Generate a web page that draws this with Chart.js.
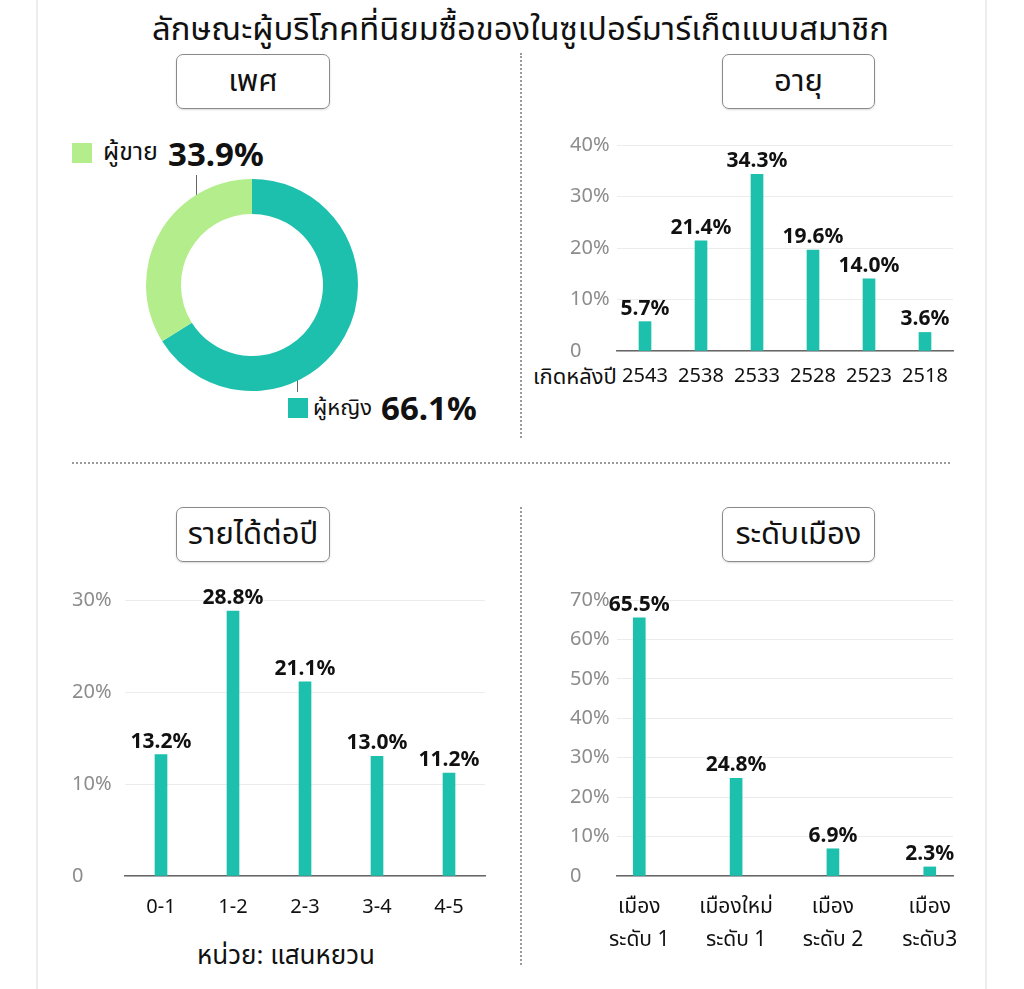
<!DOCTYPE html>
<html>
<head>
<meta charset="utf-8">
<script src="https://cdn.jsdelivr.net/npm/chart.js@4"></script>
<style>
body { margin: 0; background: #fff; font-family: "Noto Sans", "Noto Sans Thai", Loma, Garuda, Tahoma, sans-serif; }
#page { position: relative; width: 1024px; height: 989px; overflow: hidden; background: #fff; }
.abs { position: absolute; white-space: nowrap; }
.box { position: absolute; border: 1.5px solid #8a8a8a; border-radius: 7px; box-sizing: border-box;
       display: flex; align-items: center; justify-content: center; font-size: 31px; color: #111;
       box-shadow: 0 1px 2px rgba(0,0,0,0.15); }
.vline { position: absolute; width: 0; border-left: 2px dotted #9a9a9a; }
.hline { position: absolute; height: 0; border-top: 2px dotted #9a9a9a; }
.edge { position: absolute; top: 0; width: 2px; height: 989px; background: #ededed; }
canvas { position: absolute; }
.sq { position: absolute; width: 20px; height: 20px; }
.lead { position: absolute; width: 1px; background: #666; }
</style>
</head>
<body>
<div id="page">
  <div class="edge" style="left:36px"></div>
  <div class="edge" style="left:985px"></div>

  <div class="abs" id="title" data-fit="737" style="left:152px;top:6px;font-size:32px;color:#111;transform-origin:left top;">ลักษณะผู้บริโภคที่นิยมซื้อของในซูเปอร์มาร์เก็ตแบบสมาชิก</div>

  <div class="box" style="left:176px;top:54px;width:154px;height:55px;">เพศ</div>
  <div class="box" style="left:722px;top:54px;width:153px;height:55px;">อายุ</div>
  <div class="box" style="left:176px;top:507px;width:154px;height:55px;">รายได้ต่อปี</div>
  <div class="box" style="left:722px;top:507px;width:153px;height:55px;">ระดับเมือง</div>

  <div class="vline" style="left:520px;top:53px;height:385px;"></div>
  <div class="vline" style="left:520px;top:507px;height:458px;"></div>
  <div class="hline" style="left:72px;top:462px;width:878px;"></div>

  <!-- gender donut annotations -->
  <div class="sq" style="left:72px;top:143px;background:#b4ee8c;"></div>
  <div class="abs" style="left:103px;top:133px;font-size:25px;color:#111;">ผู้ขาย</div>
  <div class="abs" style="left:168px;top:131px;font-size:33px;font-weight:bold;color:#111;">33.9%</div>
  <div class="lead" style="left:196px;top:175px;height:38px;"></div>
  <div class="sq" style="left:288px;top:398px;background:#1dbfad;"></div>
  <div class="abs" style="left:313px;top:391px;font-size:22px;color:#111;">ผู้หญิง</div>
  <div class="abs" style="left:381px;top:385px;font-size:33px;font-weight:bold;color:#111;">66.1%</div>
  <div class="lead" style="left:297px;top:363px;height:29px;"></div>

  <div class="abs" style="left:533px;top:360px;font-size:22px;color:#111;">เกิดหลังปี</div>
  <div class="abs" style="left:197px;top:936px;font-size:26px;color:#111;">หน่วย: แสนหยวน</div>

  <canvas id="gender" width="212" height="212" style="left:146px;top:179px;"></canvas>
  <canvas id="age" width="403" height="266" style="left:570px;top:125px;"></canvas>
  <canvas id="income" width="428" height="346" style="left:72px;top:575px;"></canvas>
  <canvas id="city" width="408" height="381" style="left:570px;top:575px;"></canvas>
</div>
<script>
// data
const genderLabels = ["ผู้หญิง", "ผู้ขาย"];
const genderValues = [66.1, 33.9];

const ageLabels = ["2543", "2538", "2533", "2528", "2523", "2518"];
const ageValues = [5.7, 21.4, 34.3, 19.6, 14.0, 3.6];

const incomeLabels = ["0-1", "1-2", "2-3", "3-4", "4-5"];
const incomeValues = [13.2, 28.8, 21.1, 13.0, 11.2];

const cityLabels = [["เมือง", "ระดับ 1"], ["เมืองใหม่", "ระดับ 1"], ["เมือง", "ระดับ 2"], ["เมือง", "ระดับ3"]];
const cityValues = [65.5, 24.8, 6.9, 2.3];

const TEAL = "#1dbfad";
const LIGHT = "#b4ee8c";
const FONT = "'Noto Sans', 'Noto Sans Thai', Loma, Garuda, Tahoma, sans-serif";

Chart.defaults.font.family = FONT;
Chart.defaults.animation = false;

// fit title width
document.querySelectorAll("[data-fit]").forEach(el => {
    const w = el.getBoundingClientRect().width;
    el.style.transform = `scaleX(${Number(el.dataset.fit) / w})`;
});

// value labels above bars
const valueLabels = {
    id: "valueLabels",
    afterDatasetsDraw(chart) {
        const ctx = chart.ctx;
        const ds = chart.data.datasets[0];
        ctx.save();
        ctx.font = "bold 21px " + FONT;
        ctx.fillStyle = "#111";
        ctx.textAlign = "center";
        ctx.textBaseline = "middle";
        chart.getDatasetMeta(0).data.forEach((bar, i) => {
            const d = ds.data[i];
            const v = typeof d === "object" ? d.y : d;
            ctx.fillText(v.toFixed(1) + "%", bar.x, bar.y - 13);
        });
        ctx.restore();
    }
};

new Chart(document.getElementById("gender"), {
    type: "doughnut",
    data: {
        labels: genderLabels,
        datasets: [{ data: genderValues, backgroundColor: [TEAL, LIGHT], borderWidth: 0 }]
    },
    options: {
        responsive: false,
        cutout: "67%",
        plugins: { legend: { display: false }, tooltip: { enabled: false } }
    }
});

function barOptions(yMax, yWidth, xHeight, xPad, padTop, padRight, xScale) {
    return {
        responsive: false,
        layout: { padding: { left: 0, top: padTop, right: padRight, bottom: 0 } },
        plugins: { legend: { display: false }, tooltip: { enabled: false } },
        scales: {
            x: Object.assign({
                grid: { display: false, drawTicks: false },
                border: { display: true, color: "#666", width: 1.5 },
                ticks: { color: "#111", font: { size: 20 }, padding: xPad, maxRotation: 0, autoSkip: false },
                afterFit(s) { s.height = xHeight; }
            }, xScale || {}),
            y: {
                min: 0, max: yMax,
                grid: { color: "#ececec", lineWidth: 1, drawTicks: false },
                border: { display: false },
                ticks: {
                    stepSize: 10, color: "#8c8c8c", font: { size: 20 }, padding: 0, crossAlign: "far",
                    callback: v => v === 0 ? "0" : v + "%"
                },
                afterFit(s) { s.width = yWidth; }
            }
        }
    };
}

new Chart(document.getElementById("age"), {
    type: "bar",
    data: { labels: ageLabels, datasets: [{ data: ageValues, backgroundColor: TEAL, barThickness: 12 }] },
    options: barOptions(40, 47, 40, 13, 20, 20),
    plugins: [valueLabels]
});

new Chart(document.getElementById("income"), {
    type: "bar",
    data: { labels: incomeLabels, datasets: [{ data: incomeValues, backgroundColor: TEAL, barThickness: 12 }] },
    options: barOptions(30, 53, 45, 19, 25, 15),
    plugins: [valueLabels]
});

new Chart(document.getElementById("city"), {
    type: "bar",
    data: {
        datasets: [{
            data: cityValues.map((v, i) => ({ x: i, y: v })),
            backgroundColor: TEAL, barThickness: 12
        }]
    },
    options: barOptions(70, 47, 80, 14, 25, 25, {
        type: "linear",
        offset: false,
        min: -0.23, max: 3.24,
        afterBuildTicks(s) { s.ticks = cityLabels.map((_, i) => ({ value: i })); },
        ticks: {
            color: "#111", font: { size: 21, lineHeight: 1.6 }, padding: 14, maxRotation: 0, autoSkip: false,
            callback: v => cityLabels[v]
        }
    }),
    plugins: [valueLabels]
});
</script>
</body>
</html>
